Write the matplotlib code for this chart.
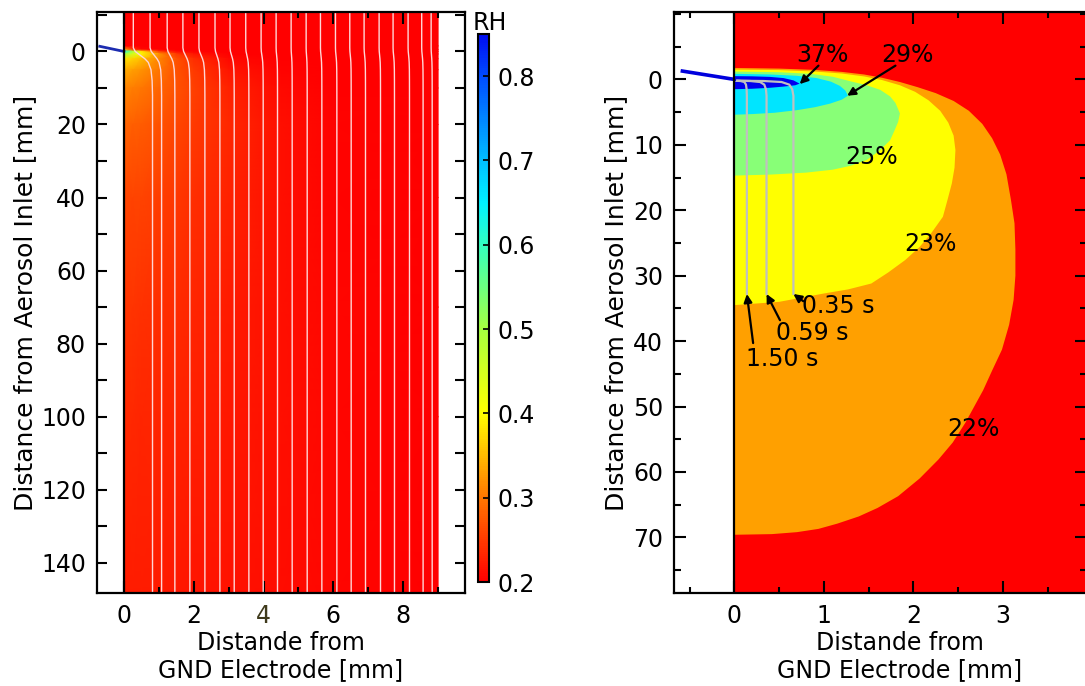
import numpy as np
import matplotlib
matplotlib.use('Agg')
import matplotlib.pyplot as plt
from matplotlib.colors import LinearSegmentedColormap
from matplotlib.ticker import MultipleLocator, FixedLocator

plt.rcParams['font.family'] = 'DejaVu Sans'
plt.rcParams['font.size'] = 17

# ---- left panel: RH field ----
grid_x = [0, 0.25, 0.5, 1.0, 1.5, 2.0, 3.0, 4.5, 6.0, 9.0]
grid_y = [-11, -1.5, -0.5, 0, 0.7, 2, 5, 10, 20, 40, 70, 100, 149]
rh_grid = [
    [0.20, 0.20, 0.20, 0.20, 0.20, 0.20, 0.20, 0.20, 0.20, 0.20],
    [0.20, 0.20, 0.20, 0.20, 0.20, 0.20, 0.20, 0.20, 0.20, 0.20],
    [0.34, 0.25, 0.21, 0.20, 0.20, 0.20, 0.20, 0.20, 0.20, 0.20],
    [0.62, 0.50, 0.38, 0.25, 0.21, 0.20, 0.20, 0.20, 0.20, 0.20],
    [0.50, 0.45, 0.40, 0.32, 0.25, 0.22, 0.20, 0.20, 0.20, 0.20],
    [0.38, 0.37, 0.35, 0.31, 0.27, 0.24, 0.21, 0.20, 0.20, 0.20],
    [0.34, 0.33, 0.32, 0.30, 0.27, 0.25, 0.22, 0.205, 0.20, 0.20],
    [0.31, 0.305, 0.30, 0.285, 0.27, 0.255, 0.23, 0.21, 0.20, 0.20],
    [0.285, 0.28, 0.278, 0.27, 0.26, 0.25, 0.235, 0.215, 0.205, 0.20],
    [0.26, 0.258, 0.256, 0.252, 0.247, 0.24, 0.23, 0.215, 0.205, 0.20],
    [0.245, 0.244, 0.243, 0.24, 0.237, 0.233, 0.225, 0.214, 0.206, 0.20],
    [0.235, 0.234, 0.233, 0.232, 0.23, 0.227, 0.222, 0.213, 0.206, 0.20],
    [0.225, 0.225, 0.224, 0.223, 0.222, 0.22, 0.217, 0.212, 0.206, 0.20],
]

# streamlines: x at top and at bottom, plus a shared bend profile
stream_x_top = [0.27, 0.75, 1.24, 1.69, 2.15, 2.61, 3.04, 3.49, 3.93, 4.36, 4.79,
                5.22, 5.63, 6.06, 6.47, 6.88, 7.31, 7.71, 8.14, 8.53, 8.80]
stream_x_bot = [0.82, 1.08, 1.46, 1.89, 2.32, 2.75, 3.16, 3.58, 3.99, 4.40, 4.82,
                5.25, 5.67, 6.10, 6.51, 6.92, 7.35, 7.75, 8.18, 8.57, 8.83]
bend_y = [-11, -1, 0, 1, 2, 3, 5, 8, 12, 149]
bend_frac = [0, 0, 0.1, 0.35, 0.6, 0.78, 0.92, 0.98, 1, 1]

inlet_left_x = [-0.69, 0.0]
inlet_left_y = [-1.4, 0.0]
inlet_right_x = [-0.58, 0.0]
inlet_right_y = [-1.27, 0.0]

cb_ticks = [0.2, 0.3, 0.4, 0.5, 0.6, 0.7, 0.8]

# ---- right panel: RH contour regions (boundary points) ----
rh22_x = [0, 0.5, 0.9, 1.2, 1.45, 1.65, 1.85, 2.05, 2.25, 2.45, 2.62, 2.77, 2.88,
          2.97, 3.04, 3.09, 3.13, 3.14, 3.14, 3.12, 3.07, 2.99, 2.88, 2.78, 2.58,
          2.44, 2.28, 2.07, 1.83, 1.6, 1.39, 1.15, 0.94, 0.7, 0.42, 0]
rh22_y = [-1.75, -1.65, -1.45, -1.15, -0.75, -0.25, 0.4, 1.2, 2.1, 3.3, 4.8, 6.8,
          9.0, 11.5, 14.5, 18.4, 22, 26, 30, 33.7, 37.5, 41.3, 44.5, 47.5, 52.5,
          55.5, 58.1, 61, 63.7, 65.5, 66.8, 67.9, 68.7, 69.2, 69.5, 69.6]
rh23_x = [0, 0.5, 0.9, 1.2, 1.45, 1.65, 1.85, 2.02, 2.17, 2.3, 2.39, 2.45, 2.47,
          2.46, 2.43, 2.38, 2.33, 2.2, 2.07, 1.91, 1.72, 1.53, 1.27, 1.01, 0.5, 0]
rh23_y = [-1.5, -1.42, -1.2, -0.9, -0.45, 0.1, 0.9, 1.9, 3.2, 4.8, 6.6, 8.6, 10.8,
          13.5, 15.9, 18.5, 21, 23.5, 25.6, 27.6, 29.5, 31.2, 32.1, 32.7, 34.0, 34.5]
rh25_x = [0, 0.5, 0.85, 1.1, 1.3, 1.48, 1.63, 1.74, 1.8, 1.85, 1.83, 1.79, 1.74,
          1.63, 1.48, 1.3, 1.1, 0.8, 0.4, 0]
rh25_y = [-1.2, -1.1, -0.85, -0.4, 0.3, 0.9, 1.6, 2.6, 3.6, 5.2, 6.5, 7.8, 9.3,
          10.8, 12.3, 13.2, 13.8, 14.25, 14.55, 14.7]
rh29_x = [0, 0.4, 0.7, 0.92, 1.08, 1.18, 1.24, 1.27, 1.2, 1.07, 0.9, 0.7, 0.45, 0.2, 0]
rh29_y = [-0.85, -0.75, -0.55, -0.2, 0.35, 1.0, 1.7, 2.5, 3.1, 3.7, 4.25, 4.7, 5.1,
          5.3, 5.4]
rh37_x = [0, 0.2, 0.4, 0.55, 0.66, 0.73, 0.68, 0.55, 0.4, 0.2, 0]
rh37_y = [-0.5, -0.47, -0.38, -0.2, 0.15, 0.65, 0.9, 1.1, 1.28, 1.43, 1.5]

region_colors = ['#ff0000', '#ffa000', '#ffff00', '#88ff77', '#00e5ff', '#0000ee']

# particle tracks (final x) and their residence-time labels
track_x = [0.14, 0.36, 0.66]
track_end_y = 32.8
track_shape_frac = [0, 0.5, 0.8, 0.93, 0.98, 1.0, 1.0]
track_shape_y = [0.2, 0.25, 0.4, 0.8, 1.5, 2.5, track_end_y]
track_labels = ['1.50 s', '0.59 s', '0.35 s']
track_label_pos = [(0.54, 42.7), (0.87, 38.7), (1.16, 34.6)]
track_arrow_from = [(0.21, 40.3), (0.51, 36.8), (0.77, 33.9)]

pct_labels = ['37%', '29%', '25%', '23%', '22%']
pct_pos = [(0.98, -3.8), (1.93, -3.8), (1.53, 11.8), (2.19, 25.2), (2.67, 53.4)]
pct_arrow_from = [(0.94, -2.1), (1.80, -2.1), None, None, None]
pct_arrow_to = [(0.73, 0.72), (1.26, 2.5), None, None, None]

xlabel = 'Distande from\nGND Electrode [mm]'
ylabel = 'Distance from Aerosol Inlet [mm]'

rh_cmap = LinearSegmentedColormap.from_list('rh', [
    (0.0, (1.0, 0.0, 0.0)),
    (0.1 / 0.65, (1.0, 0.47, 0.0)),
    (0.2 / 0.65, (1.0, 1.0, 0.0)),
    (0.3 / 0.65, (0.65, 1.0, 0.25)),
    (0.4 / 0.65, (0.2, 1.0, 0.75)),
    (0.45 / 0.65, (0.0, 0.95, 1.0)),
    (0.5 / 0.65, (0.0, 0.75, 1.0)),
    (0.6 / 0.65, (0.0, 0.3, 1.0)),
    (1.0, (0.0, 0.05, 0.95)),
])


def style_axes(ax, xmaj, xmin, ymaj, ymin, ylen):
    for s in ax.spines.values():
        s.set_linewidth(1.6)
        s.set_zorder(10)
    ax.xaxis.set_major_locator(MultipleLocator(xmaj))
    ax.xaxis.set_minor_locator(MultipleLocator(xmin))
    ax.yaxis.set_major_locator(ymaj)
    ax.yaxis.set_minor_locator(MultipleLocator(ymin))
    ax.tick_params(axis='x', which='major', direction='in', length=8.5, width=1.5,
                   top=True, bottom=True, pad=8)
    ax.tick_params(axis='x', which='minor', direction='in', length=4.3, width=1.5,
                   top=True, bottom=True)
    ax.tick_params(axis='y', which='major', direction='in', length=ylen[0], width=1.5,
                   left=True, right=True, pad=8)
    ax.tick_params(axis='y', which='minor', direction='in', length=ylen[1], width=1.5,
                   left=True, right=True)
    ax.set_xlabel(xlabel, linespacing=1.2)
    ax.set_ylabel(ylabel, fontsize=18)


fig = plt.figure(figsize=(10.85, 6.86), dpi=100)

# ---------------- left panel ----------------
ax1 = fig.add_axes([97 / 1085, 1 - 593 / 686, 368 / 1085, 581 / 686])
mesh = ax1.pcolormesh(grid_x, grid_y, np.array(rh_grid), cmap=rh_cmap,
                      vmin=0.2, vmax=0.85, shading='gouraud', zorder=1)
for xt, xb in zip(stream_x_top, stream_x_bot):
    xs = [xt + f * (xb - xt) for f in bend_frac]
    ax1.plot(xs, bend_y, color='#ffd6d6', lw=1.0, zorder=2)
ax1.plot(inlet_left_x, inlet_left_y, color='#1c2cb0', lw=2, zorder=3)
ax1.axvline(0, color='k', lw=1.6, zorder=4)
ax1.set_xlim(-0.77, 9.77)
ax1.set_ylim(148.3, -10.8)
style_axes(ax1, 2, 1, MultipleLocator(20), 10, (7.2, 7.2))
ax1.xaxis.set_label_coords(0.5, -0.065)
ax1.yaxis.set_label_coords(-0.163, 0.5)
for lab in ax1.get_xticklabels():
    if lab.get_text() == '4':
        lab.set_color('#3f3a1c')

cax = fig.add_axes([478 / 1085, 1 - 582 / 686, 11 / 1085, 548 / 686])
cb = fig.colorbar(mesh, cax=cax, ticks=cb_ticks)
cb.outline.set_linewidth(1.5)
cax.tick_params(direction='in', length=4, width=1.2, pad=6)
cax.text(1.1, 0.998, 'RH', transform=cax.transAxes, ha='center', va='bottom')

# ---------------- right panel ----------------
ax2 = fig.add_axes([674 / 1085, 1 - 593 / 686, 413 / 1085, 581 / 686])
ax2.set_xlim(-0.674, 3.94)
ax2.set_ylim(78.5, -10.3)
ax2.fill_between([0, 3.94], -10.3, 78.5, color=region_colors[0], lw=0, zorder=1)
regions = [(rh22_x, rh22_y), (rh23_x, rh23_y), (rh25_x, rh25_y),
           (rh29_x, rh29_y), (rh37_x, rh37_y)]
for (rx, ry), c in zip(regions, region_colors[1:]):
    ax2.fill(rx, ry, color=c, lw=0, zorder=2)

for xf in track_x:
    ax2.plot([xf * f for f in track_shape_frac], track_shape_y,
             color='#c0c0c0', lw=1.6, zorder=3)
ax2.plot(inlet_right_x, inlet_right_y, color='#0000dd', lw=2.6, zorder=4)
ax2.axvline(0, color='k', lw=1.6, zorder=5)

arrow_kw = dict(arrowstyle='-|>', color='k', lw=1.6, mutation_scale=12,
                shrinkA=0, shrinkB=0)
for lab, pos, src, xf in zip(track_labels, track_label_pos, track_arrow_from, track_x):
    ax2.text(pos[0], pos[1], lab, ha='center', va='center', zorder=6)
    ax2.annotate('', xy=(xf, track_end_y), xytext=src, arrowprops=arrow_kw, zorder=6)
for lab, pos, src, dst in zip(pct_labels, pct_pos, pct_arrow_from, pct_arrow_to):
    ax2.text(pos[0], pos[1], lab, ha='center', va='center', zorder=6)
    if src is not None:
        ax2.annotate('', xy=dst, xytext=src, arrowprops=arrow_kw, zorder=6)

style_axes(ax2, 1, 0.5, FixedLocator(range(0, 80, 10)), 5, (8.6, 5))
ax2.xaxis.set_label_coords(0.547, -0.065)
ax2.yaxis.set_label_coords(-0.11, 0.5)

fig.savefig('out.png', dpi=100)
